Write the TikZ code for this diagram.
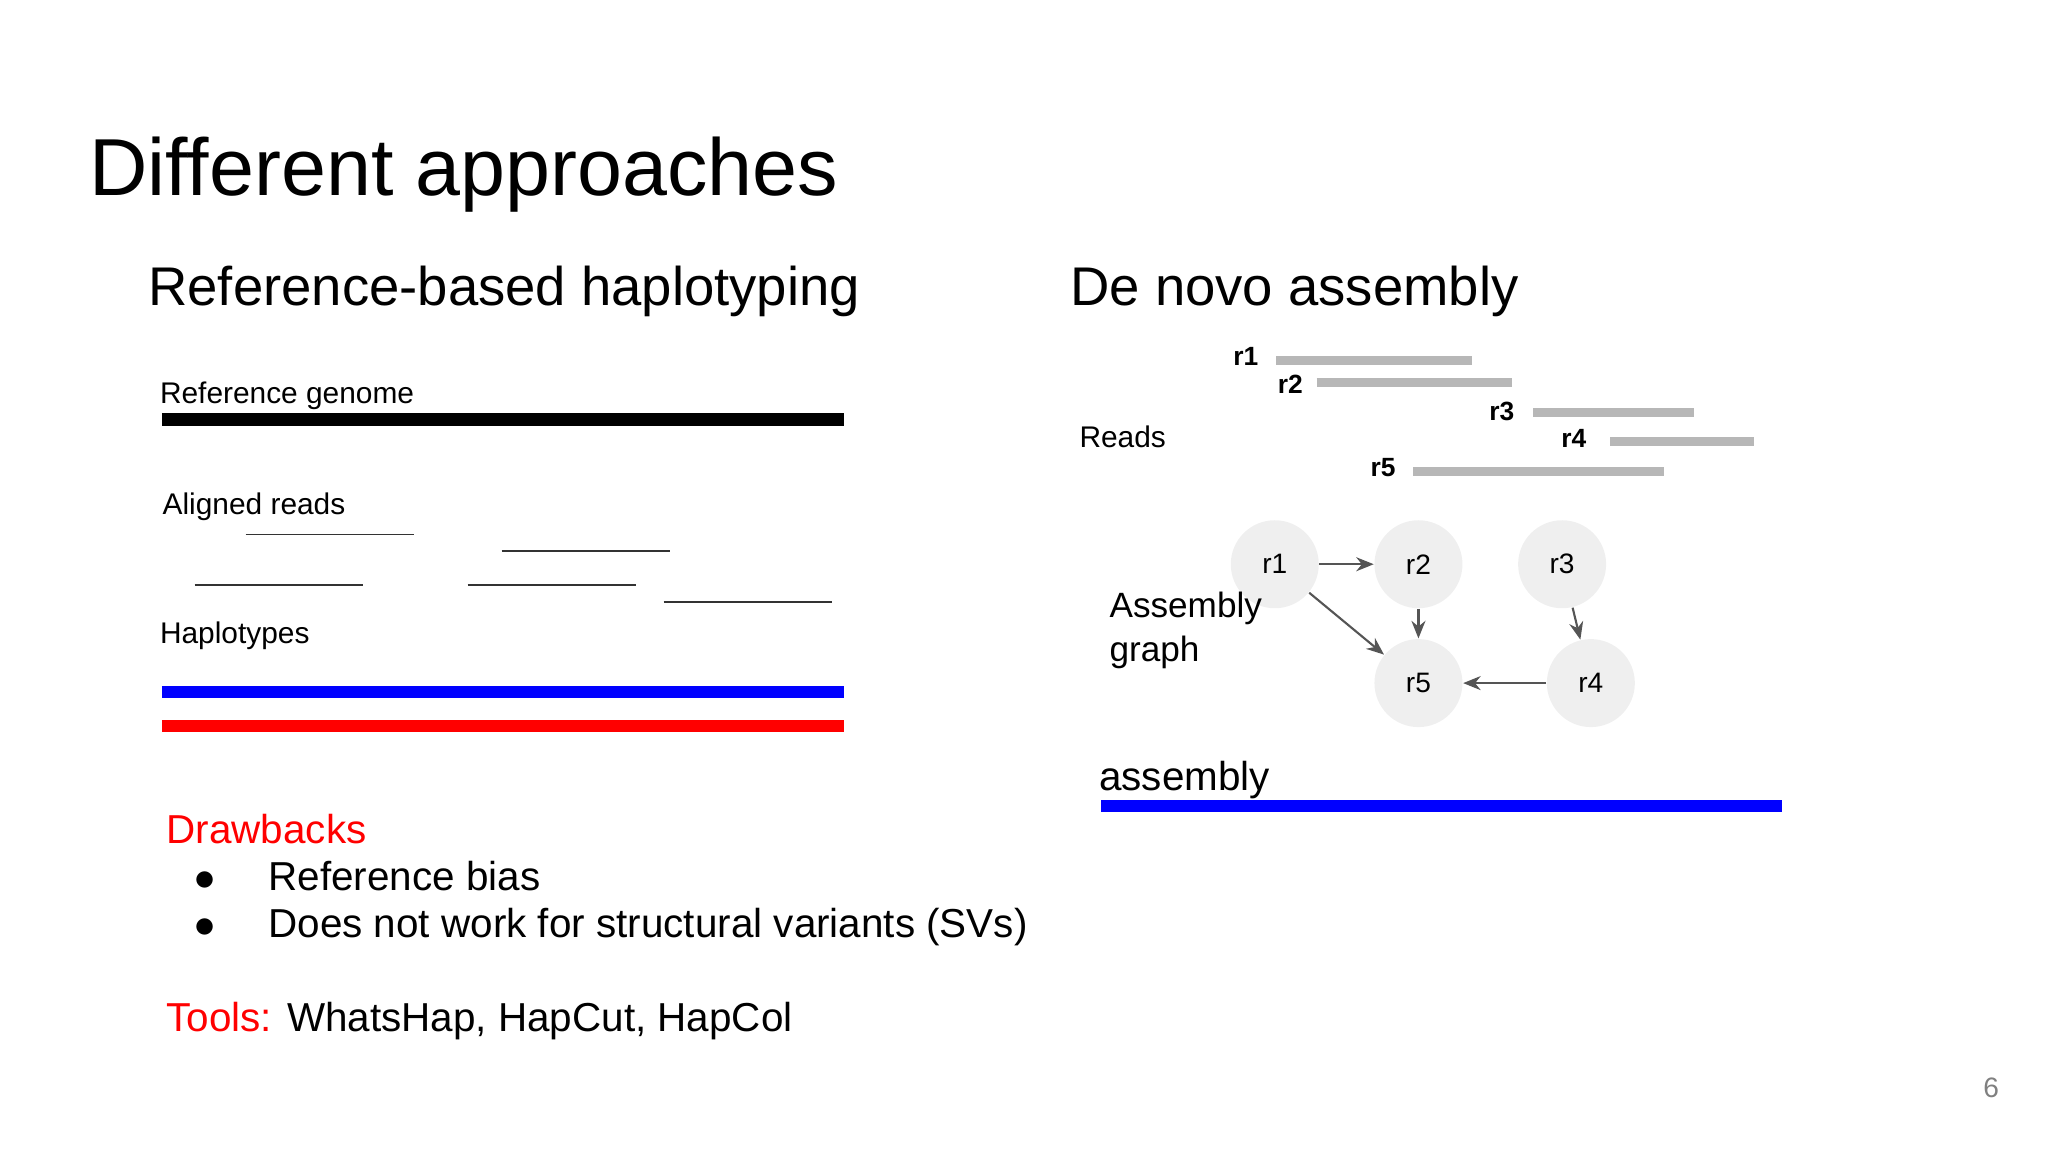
\documentclass[tikz,border=0pt]{standalone}
\usepackage{fontspec}
\setmainfont{Liberation Sans}
\usetikzlibrary{arrows.meta}
\definecolor{readgray}{RGB}{183,183,183}
\definecolor{nodegray}{RGB}{239,239,239}
\definecolor{edgegray}{RGB}{85,85,85}
\begin{document}
\begin{tikzpicture}[x=0.01306cm, y=-0.01306cm,
	txt/.style={anchor=base west, inner sep=0, font=\fontsize{8.5pt}{10pt}\selectfont},
	big/.style={anchor=base west, inner sep=0, font=\fontsize{11.5pt}{14pt}\selectfont},
	rlab/.style={anchor=base east, inner sep=0, font=\bfseries\fontsize{7.5pt}{9pt}\selectfont},
	read/.style={readgray, line width=0.09cm},
	thin/.style={black!80, line width=0.4pt},
	vert/.style={circle, fill=nodegray, minimum size=0.88cm, inner sep=0, font=\fontsize{8pt}{10pt}\selectfont},
	edge/.style={-{Stealth[length=5pt,width=4pt]}, edgegray, line width=0.6pt}]
	% frame
	\useasboundingbox (0,0) rectangle (1568,882);
	% titles
	\node[anchor=base west, inner sep=0, font=\fontsize{23pt}{27pt}\selectfont] (title) at (68,150) {Different approaches};
	\node[anchor=base west, inner sep=0, font=\fontsize{15.5pt}{18pt}\selectfont] (left) at (113,234) {Reference-based haplotyping};
	\node[anchor=base west, inner sep=0, font=\fontsize{15.5pt}{18pt}\selectfont] (right) at (819,234) {De novo assembly};
	% reference based
	\node[txt] (refg) at (122,309) {Reference genome};
	\draw[black, line width=0.13cm] (124,321) -- (646,321);
	\node[txt] (aligned) at (124,394) {Aligned reads};
	\draw[thin] (188,409) -- (317,409);
	\draw[thin] (384,422) -- (513,422);
	\draw[thin] (149,448) -- (278,448);
	\draw[thin] (358,448) -- (487,448);
	\draw[thin] (508,461) -- (637,461);
	\node[txt] (hap) at (122,493) {Haplotypes};
	\draw[blue, line width=0.12cm] (124,530) -- (646,530);
	\draw[red, line width=0.12cm] (124,556) -- (646,556);
	\node[big, red] (draw) at (127,646) {Drawbacks};
	\node[big] (b1) at (148,682) {$\bullet$};
	\node[big] (t1) at (205,682) {Reference bias};
	\node[big] (b2) at (148,718) {$\bullet$};
	\node[big] (t2) at (205,718) {Does not work for structural variants (SVs)};
	\node[big] (tools) at (127,790) {\textcolor{red}{Tools:} WhatsHap, HapCut, HapCol};
	% reads
	\node[txt] (reads) at (826,343) {Reads};
	\node[rlab] (l1) at (964,280) {r1};
	\draw[read] (977,276) -- (1127,276);
	\node[rlab] (l2) at (998,301) {r2};
	\draw[read] (1008,293) -- (1158,293);
	\node[rlab] (l3) at (1160,322) {r3};
	\draw[read] (1174,316) -- (1297,316);
	\node[rlab] (l4) at (1215,343) {r4};
	\draw[read] (1233,338) -- (1343,338);
	\node[rlab] (l5) at (1069,365) {r5};
	\draw[read] (1082,361) -- (1274,361);
	% graph
	\node[vert] (r1) at (976,432) {r1};
	\node[vert] (r2) at (1086,432) {r2};
	\node[vert] (r3) at (1196,432) {r3};
	\node[vert] (r4) at (1218,523) {r4};
	\node[vert] (r5) at (1086,523) {r5};
	\node[txt, align=left, anchor=north west, font=\fontsize{10pt}{12.5pt}\selectfont] (agraph) at (849,453) {Assembly\\graph};
	\draw[edge] (r1) -- (r2);
	\draw[edge] (r2) -- (r5);
	\draw[edge] (r1) -- (r5);
	\draw[edge] (r3) -- (r4);
	\draw[edge] (r4) -- (r5);
	\node[big] (asm) at (841,605) {assembly};
	\draw[blue, line width=0.12cm] (843,617) -- (1364,617);
	\node[anchor=base east, inner sep=0, text=gray, font=\fontsize{8pt}{10pt}\selectfont] (page) at (1531,840) {6};
\end{tikzpicture}
\end{document}
